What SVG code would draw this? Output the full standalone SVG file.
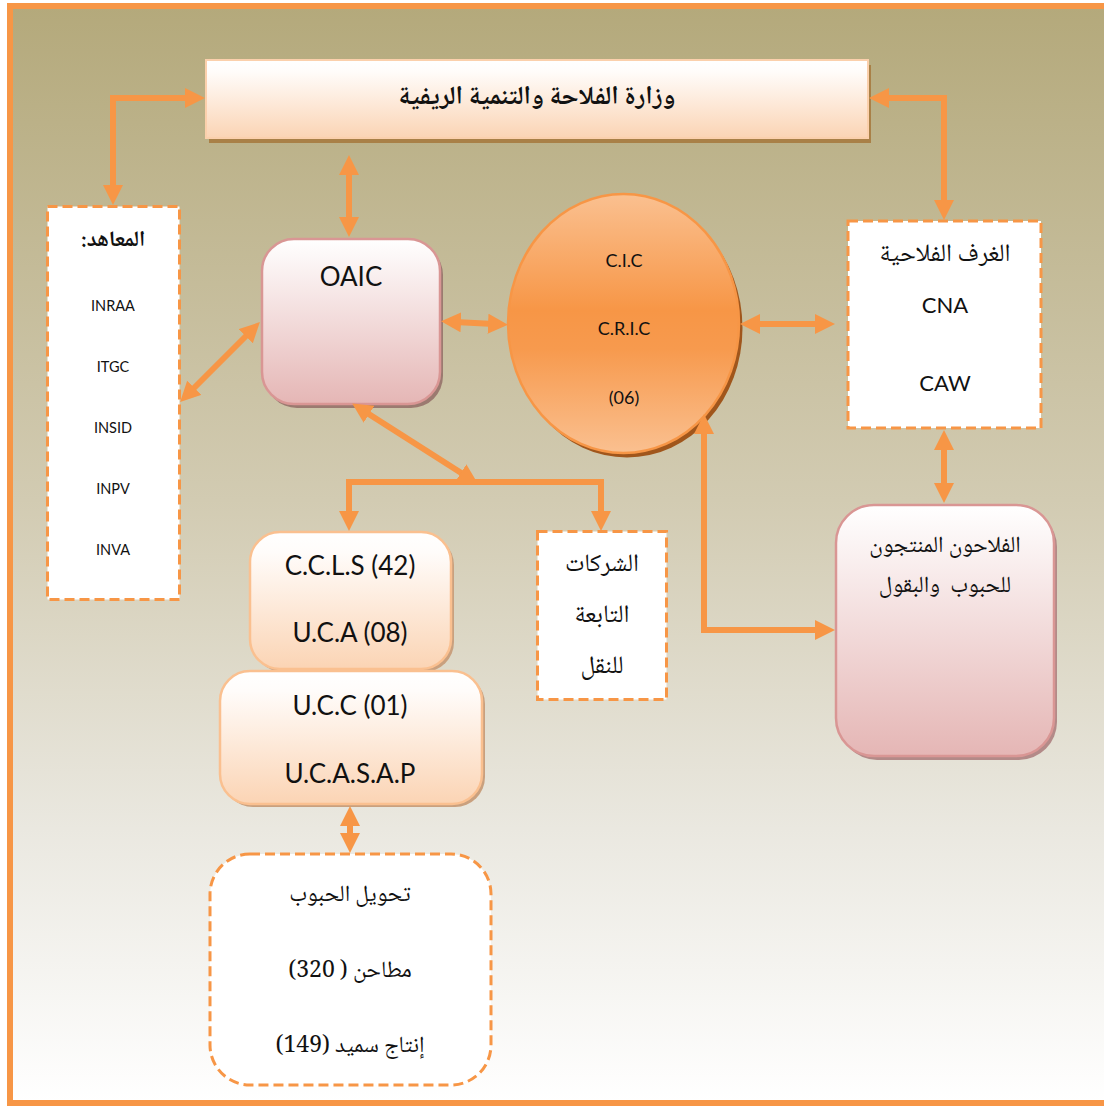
<svg xmlns="http://www.w3.org/2000/svg" width="1104" height="1106" viewBox="0 0 1104 1106">
  <defs>
    <linearGradient id="bg" x1="0" y1="0" x2="0" y2="1">
      <stop offset="0" stop-color="#b4a97b"/>
      <stop offset="0.45" stop-color="#d2cbb2"/>
      <stop offset="0.75" stop-color="#eae8e0"/>
      <stop offset="1" stop-color="#ffffff"/>
    </linearGradient>
    <linearGradient id="gPeach" x1="0" y1="0" x2="0" y2="1">
      <stop offset="0" stop-color="#ffffff"/>
      <stop offset="0.15" stop-color="#fffcfa"/>
      <stop offset="1" stop-color="#fbd4b4"/>
    </linearGradient>
    <linearGradient id="gRose" x1="0" y1="0" x2="0" y2="1">
      <stop offset="0" stop-color="#ffffff"/>
      <stop offset="1" stop-color="#e5b6b5"/>
    </linearGradient>
    <linearGradient id="gOrange" x1="0" y1="0" x2="0" y2="1">
      <stop offset="0" stop-color="#fac090"/>
      <stop offset="0.45" stop-color="#f79646"/>
      <stop offset="0.6" stop-color="#f79a4e"/>
      <stop offset="1" stop-color="#fac090"/>
    </linearGradient>
    <marker id="ah" viewBox="0 0 20 20" refX="6" refY="10" markerWidth="20" markerHeight="20" markerUnits="userSpaceOnUse" orient="auto-start-reverse">
      <path d="M0,0 L20,10 L0,20 z" fill="#f79646"/>
    </marker>
  </defs>
  <style>
    .lat { font-family: Lato, "Open Sans", "Liberation Sans", sans-serif; fill: #111; text-anchor: middle; }
    .ar { font-family: "Noto Naskh Arabic", "Noto Sans Arabic", "DejaVu Sans", sans-serif; fill: #111; text-anchor: middle; direction: rtl; }
    .dash { fill: #ffffff; stroke: #f79646; stroke-width: 3; stroke-dasharray: 10 5; }
    .conn path { fill: none; stroke: #f79646; stroke-width: 6; stroke-linejoin: miter; marker-start: url(#ah); marker-end: url(#ah); }
  </style>

  <!-- page background and frame -->
  <rect x="0" y="0" width="1104" height="1106" fill="#ffffff"/>
  <rect x="10" y="6" width="1100" height="1097" fill="url(#bg)" stroke="#f79646" stroke-width="6"/>

  <!-- ministry -->
  <g id="ministry">
    <rect x="209" y="65" width="662" height="78" fill="#a98047"/>
    <rect x="206" y="60" width="662" height="78" fill="url(#gPeach)" stroke="#fbd0ac" stroke-width="2"/>
    <text class="ar" x="537" y="104" font-size="26" font-weight="bold">وزارة الفلاحة والتنمية الريفية</text>
  </g>

  <!-- institutes -->
  <g id="institutes">
    <rect class="dash" x="47.5" y="206.5" width="132" height="393"/>
    <text class="ar" x="113" y="246" font-size="22" font-weight="bold">المعاهد:</text>
    <text class="lat" x="113" y="311" font-size="14.5">INRAA</text>
    <text class="lat" x="113" y="372" font-size="14.5">ITGC</text>
    <text class="lat" x="113" y="433" font-size="14.5">INSID</text>
    <text class="lat" x="113" y="494" font-size="14.5">INPV</text>
    <text class="lat" x="113" y="555" font-size="14.5">INVA</text>
  </g>

  <!-- OAIC -->
  <g id="oaic">
    <rect x="265" y="243" width="178" height="165" rx="32" fill="#9b7a70"/>
    <rect x="262" y="239" width="178" height="165" rx="32" fill="url(#gRose)" stroke="#d99694" stroke-width="2.5"/>
    <text class="lat" x="351" y="286" font-size="26">OAIC</text>
  </g>

  <!-- CIC / CRIC -->
  <g id="cic">
    <ellipse cx="627" cy="328" rx="115.5" ry="129.5" fill="#a0561c"/>
    <ellipse cx="623.5" cy="323.5" rx="115.5" ry="129.5" fill="url(#gOrange)" stroke="#f79646" stroke-width="2.5"/>
    <text class="lat" x="624" y="267" font-size="18">C.I.C</text>
    <text class="lat" x="624" y="335" font-size="18">C.R.I.C</text>
    <text class="lat" x="624" y="404" font-size="18">(06)</text>
  </g>

  <!-- chambers of agriculture -->
  <g id="chambers">
    <rect class="dash" x="848" y="221" width="193" height="207"/>
    <text class="ar" x="945" y="261" font-size="25">الغرف الفلاحية</text>
    <text class="lat" x="945" y="313" font-size="22">CNA</text>
    <text class="lat" x="945" y="391" font-size="22">CAW</text>
  </g>

  <!-- producers -->
  <g id="farmers">
    <rect x="839" y="509" width="218" height="251" rx="38" fill="#b38a88"/>
    <rect x="836" y="505" width="218" height="251" rx="38" fill="url(#gRose)" stroke="#d99694" stroke-width="2.5"/>
    <text class="ar" x="945" y="552" font-size="23">الفلاحون المنتجون</text>
    <text class="ar" x="945" y="592" font-size="23" style="white-space:pre">للحبوب  والبقول</text>
  </g>

  <!-- cooperatives -->
  <g id="ccls">
    <rect x="253" y="535" width="201" height="137" rx="30" fill="#c9a07e"/>
    <rect x="250" y="532" width="201" height="137" rx="30" fill="url(#gPeach)" stroke="#fac090" stroke-width="2.5"/>
    <text class="lat" x="350" y="575" font-size="26">C.C.L.S (42)</text>
    <text class="lat" x="350" y="642" font-size="26">U.C.A (08)</text>
  </g>

  <g id="ucc">
    <rect x="223" y="674" width="262" height="133" rx="30" fill="#c9a07e"/>
    <rect x="220" y="671" width="262" height="133" rx="30" fill="url(#gPeach)" stroke="#fac090" stroke-width="2.5"/>
    <text class="lat" x="350" y="715" font-size="26">U.C.C (01)</text>
    <text class="lat" x="350" y="783" font-size="26">U.C.A.S.A.P</text>
  </g>

  <!-- transport companies -->
  <g id="transport">
    <rect class="dash" x="537.5" y="531.5" width="129" height="168"/>
    <text class="ar" x="602" y="571" font-size="25">الشركات</text>
    <text class="ar" x="602" y="622" font-size="25">التابعة</text>
    <text class="ar" x="602" y="673" font-size="25">للنقل</text>
  </g>

  <!-- grain processing -->
  <g id="processing">
    <rect class="dash" x="210" y="854" width="281" height="231" rx="40"/>
    <text class="ar" x="350" y="901" font-size="23">تحويل الحبوب</text>
    <text class="ar" x="350" y="977" font-size="23">مطاحن ( 320)</text>
    <text class="ar" x="350" y="1052" font-size="23">إنتاج سميد (149)</text>
  </g>

  <!-- connectors -->
  <g id="connectors" class="conn">
    <path d="M113,191 L113,98 L191,98"/>
    <path d="M883,98 L944,98 L944,206"/>
    <path d="M349,169 L349,223"/>
    <path d="M190,392 L250,332"/>
    <path d="M455,322 L494,324"/>
    <path d="M754,324 L821,324"/>
    <path d="M944,444 L944,489"/>
    <path d="M704,428 L704,630 L821,630"/>
    <path d="M364,411 L466,476"/>
    <path d="M349,517 L349,482 L601,482 L601,517"/>
    <path d="M350,820 L350,839"/>
  </g>
</svg>
